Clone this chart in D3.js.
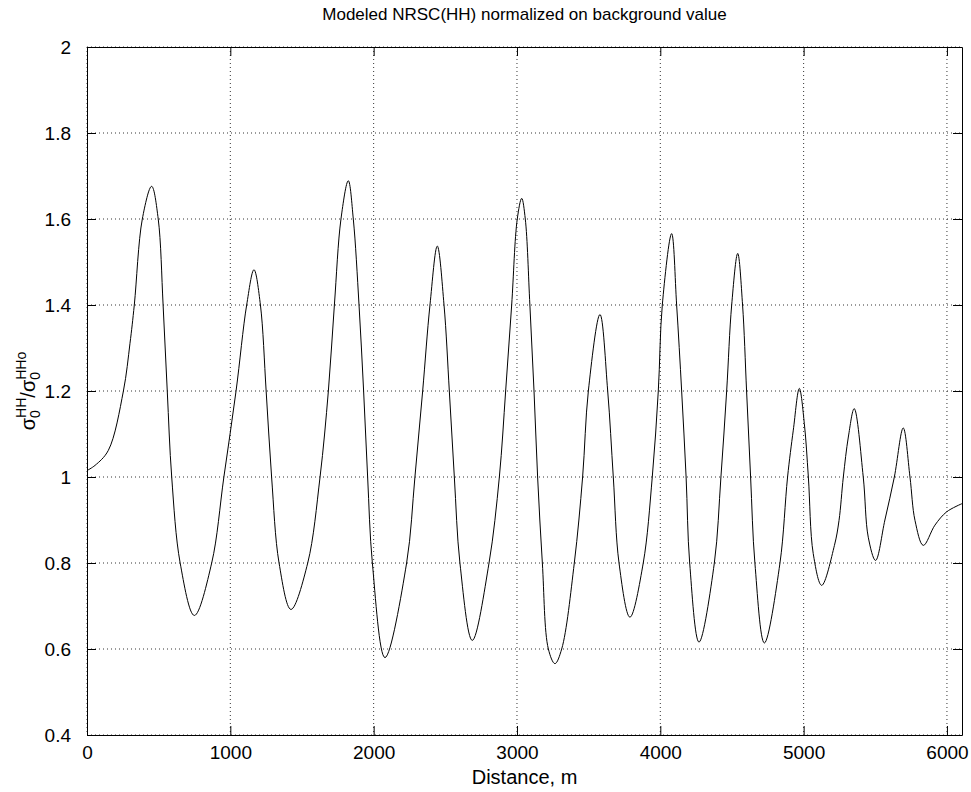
<!DOCTYPE html>
<html>
<head>
<meta charset="utf-8">
<script src="https://cdn.jsdelivr.net/npm/d3@7"></script>
<style>
  body { margin: 0; background: #fff; }
  text { font-family: "Liberation Sans", Arial, sans-serif; fill: #000; }
</style>
</head>
<body>
<div id="chart"></div>
<script>
var
  width = 971,
  height = 792;

// distance along the track, m
var distance = [
  0, 56, 149, 254, 300, 330, 386, 451, 497, 531, 560, 591, 650, 749,
  870, 955, 1040, 1114, 1165, 1210, 1250, 1288, 1340, 1423,
  1540, 1626, 1684, 1726, 1772, 1823, 1858, 1898, 1930, 1958, 1991, 2079,
  2230, 2288, 2342, 2393, 2444, 2491, 2528, 2563, 2602, 2688,
  2805, 2877, 2921, 2963, 3002, 3033, 3058, 3090, 3119, 3144, 3177, 3219, 3265,
  3312, 3400, 3458, 3498, 3579, 3633, 3672, 3712, 3788,
  3881, 3944, 3986, 4014, 4079, 4114, 4149, 4180, 4205, 4270,
  4377, 4423, 4463, 4498, 4540, 4574, 4602, 4630, 4660, 4726,
  4835, 4888, 4928, 4970, 5005, 5033, 5067, 5126,
  5215, 5247, 5277, 5312, 5353, 5416, 5451, 5502,
  5567, 5633, 5695, 5742, 5777, 5835, 5916, 5998, 6105
];

// sigma0 HH / sigma0 HH background
var ratio = [
  1.015, 1.027, 1.062, 1.2, 1.311, 1.4, 1.6, 1.676, 1.6, 1.4, 1.2, 1.0, 0.8, 0.678,
  0.8, 1.0, 1.2, 1.4, 1.482, 1.4, 1.2, 1.0, 0.8, 0.692,
  0.8, 1.0, 1.2, 1.4, 1.6, 1.689, 1.6, 1.4, 1.2, 1.0, 0.8, 0.58,
  0.8, 1.0, 1.2, 1.4, 1.537, 1.4, 1.2, 1.0, 0.8, 0.62,
  0.8, 1.0, 1.2, 1.4, 1.6, 1.648, 1.6, 1.4, 1.2, 1.0, 0.8, 0.6, 0.566,
  0.6, 0.8, 1.0, 1.2, 1.378, 1.2, 1.0, 0.8, 0.674,
  0.8, 1.0, 1.2, 1.4, 1.566, 1.4, 1.2, 1.0, 0.8, 0.616,
  0.8, 1.0, 1.2, 1.4, 1.52, 1.4, 1.2, 1.0, 0.8, 0.614,
  0.8, 1.0, 1.109, 1.206, 1.124, 1.0, 0.822, 0.748,
  0.841, 0.899, 1.0, 1.093, 1.159, 1.0, 0.86, 0.806,
  0.9, 1.0, 1.114, 1.0, 0.899, 0.841, 0.888, 0.919, 0.938
];

var xTicks = [0, 1000, 2000, 3000, 4000, 5000, 6000];
var yTicks = [0.4, 0.6, 0.8, 1, 1.2, 1.4, 1.6, 1.8, 2];

var titleText = "Modeled NRSC(HH) normalized on background value";
var xLabelText = "Distance, m";

var margin = {top: 47, right: 9, bottom: 57, left: 87};
var plotW = width - margin.left - margin.right,
    plotH = height - margin.top - margin.bottom;

var svg = d3.select("#chart")
  .append("svg")
  .attr("width", width)
  .attr("height", height);

var x = d3.scaleLinear().domain([0, 6105]).range([0, plotW]);
var y = d3.scaleLinear().domain([0.4, 2]).range([plotH, 0]);

var g = svg.append("g")
  .attr("transform", "translate(" + margin.left + "," + margin.top + ")");

// dotted grid
g.append("g")
  .selectAll("line")
  .data(xTicks)
  .enter().append("line")
  .attr("x1", function(d) { return x(d); })
  .attr("x2", function(d) { return x(d); })
  .attr("y1", 0)
  .attr("y2", plotH)
  .attr("stroke", "#000")
  .attr("stroke-width", 0.8)
  .attr("stroke-dasharray", "1,3");

g.append("g")
  .selectAll("line")
  .data(yTicks)
  .enter().append("line")
  .attr("x1", 0)
  .attr("x2", plotW)
  .attr("y1", function(d) { return y(d); })
  .attr("y2", function(d) { return y(d); })
  .attr("stroke", "#000")
  .attr("stroke-width", 0.8)
  .attr("stroke-dasharray", "1,3");

// axes, ticks pointing inward like matlab
var tickLen = 9;

var xBottom = g.append("g")
  .attr("transform", "translate(0," + plotH + ")")
  .call(d3.axisBottom(x).tickValues(xTicks).tickSizeInner(-tickLen).tickSizeOuter(0).tickPadding(11).tickFormat(d3.format("d")));
var xTop = g.append("g")
  .call(d3.axisTop(x).tickValues(xTicks).tickSizeInner(-tickLen).tickSizeOuter(0).tickFormat(""));
var yLeft = g.append("g")
  .call(d3.axisLeft(y).tickValues(yTicks).tickSizeInner(-tickLen).tickSizeOuter(0).tickPadding(16).tickFormat(function(d) { return d3.format("")(d); }));
var yRight = g.append("g")
  .attr("transform", "translate(" + plotW + ",0)")
  .call(d3.axisRight(y).tickValues(yTicks).tickSizeInner(-tickLen).tickSizeOuter(0).tickFormat(""));

[xBottom, xTop, yLeft, yRight].forEach(function(a) {
  a.select(".domain").attr("stroke", "#000").attr("stroke-width", 1);
  a.selectAll(".tick line").attr("stroke", "#000");
  a.selectAll(".tick text")
    .style("font-family", "'Liberation Sans', Arial, sans-serif")
    .style("font-size", "19px")
    .attr("fill", "#000");
});

// curve
var line = d3.line()
  .x(function(d) { return x(d[0]); })
  .y(function(d) { return y(d[1]); })
  .curve(d3.curveCatmullRom.alpha(0.5));

g.append("path")
  .datum(d3.zip(distance, ratio))
  .attr("fill", "none")
  .attr("stroke", "#000")
  .attr("stroke-width", 1)
  .attr("d", line);

// title and labels
svg.append("text")
  .attr("x", margin.left + plotW / 2)
  .attr("y", 20)
  .attr("text-anchor", "middle")
  .style("font-size", "17px")
  .text(titleText);

svg.append("text")
  .attr("x", margin.left + plotW / 2)
  .attr("y", 784)
  .attr("text-anchor", "middle")
  .style("font-size", "20px")
  .text(xLabelText);

var yl = svg.append("text")
  .attr("transform", "translate(35," + (margin.top + plotH / 2) + ") rotate(-90)")
  .attr("text-anchor", "middle")
  .style("font-size", "20px");

yl.append("tspan").text("\u03c3");
yl.append("tspan").attr("dy", 5).style("font-size", "14px").text("0");
yl.append("tspan").attr("dx", -7.8).attr("dy", -14).style("font-size", "14px").text("HH");
yl.append("tspan").attr("dy", 9).text("/\u03c3");
yl.append("tspan").attr("dy", 5).style("font-size", "14px").text("0");
yl.append("tspan").attr("dx", -7.8).attr("dy", -14).style("font-size", "14px").text("HHo");
</script>
</body>
</html>
